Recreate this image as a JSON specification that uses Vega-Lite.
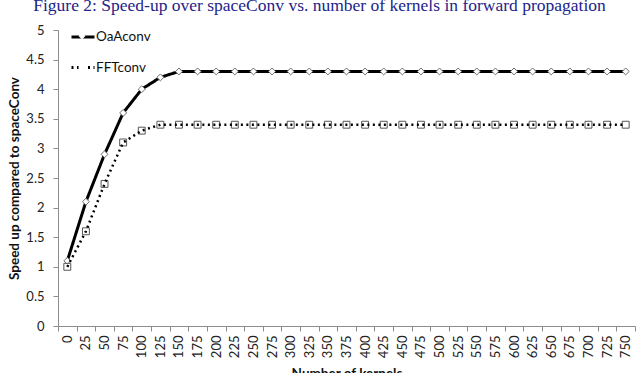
{
  "$schema": "https://vega.github.io/schema/vega-lite/v6.json",
  "autosize": {"type": "none"},
  "width": 577,
  "height": 296,
  "padding": {"left": 58, "top": 30, "right": 5, "bottom": 47},
  "background": "white",
  "title": {
    "text": "Figure 2: Speed-up over spaceConv vs. number of kernels in forward propagation",
    "font": "Liberation Serif",
    "fontSize": 17.5,
    "fontWeight": "normal",
    "color": "#23238a",
    "anchor": "middle",
    "dx": -27,
    "baseline": "alphabetic",
    "offset": -4.5
  },
  "config": {
    "view": {"stroke": null},
    "font": "Lato",
    "axis": {
      "labelFont": "Lato",
      "labelFontSize": 13,
      "labelColor": "#222222",
      "titleFont": "Lato",
      "titleFontSize": 13.5,
      "titleFontWeight": "bold",
      "titleColor": "#111111",
      "domainColor": "#8c8c8c",
      "tickColor": "#8c8c8c",
      "tickSize": 5,
      "grid": false
    },
    "legend": {"padding": 0}
  },
  "data": {
    "values": [
      {"k": 0, "series": "OaAconv", "v": 1.1},
      {"k": 25, "series": "OaAconv", "v": 2.1},
      {"k": 50, "series": "OaAconv", "v": 2.9},
      {"k": 75, "series": "OaAconv", "v": 3.6},
      {"k": 100, "series": "OaAconv", "v": 4.0},
      {"k": 125, "series": "OaAconv", "v": 4.2},
      {"k": 150, "series": "OaAconv", "v": 4.3},
      {"k": 175, "series": "OaAconv", "v": 4.3},
      {"k": 200, "series": "OaAconv", "v": 4.3},
      {"k": 225, "series": "OaAconv", "v": 4.3},
      {"k": 250, "series": "OaAconv", "v": 4.3},
      {"k": 275, "series": "OaAconv", "v": 4.3},
      {"k": 300, "series": "OaAconv", "v": 4.3},
      {"k": 325, "series": "OaAconv", "v": 4.3},
      {"k": 350, "series": "OaAconv", "v": 4.3},
      {"k": 375, "series": "OaAconv", "v": 4.3},
      {"k": 400, "series": "OaAconv", "v": 4.3},
      {"k": 425, "series": "OaAconv", "v": 4.3},
      {"k": 450, "series": "OaAconv", "v": 4.3},
      {"k": 475, "series": "OaAconv", "v": 4.3},
      {"k": 500, "series": "OaAconv", "v": 4.3},
      {"k": 525, "series": "OaAconv", "v": 4.3},
      {"k": 550, "series": "OaAconv", "v": 4.3},
      {"k": 575, "series": "OaAconv", "v": 4.3},
      {"k": 600, "series": "OaAconv", "v": 4.3},
      {"k": 625, "series": "OaAconv", "v": 4.3},
      {"k": 650, "series": "OaAconv", "v": 4.3},
      {"k": 675, "series": "OaAconv", "v": 4.3},
      {"k": 700, "series": "OaAconv", "v": 4.3},
      {"k": 725, "series": "OaAconv", "v": 4.3},
      {"k": 750, "series": "OaAconv", "v": 4.3},
      {"k": 0, "series": "FFTconv", "v": 1.0},
      {"k": 25, "series": "FFTconv", "v": 1.6},
      {"k": 50, "series": "FFTconv", "v": 2.4},
      {"k": 75, "series": "FFTconv", "v": 3.1},
      {"k": 100, "series": "FFTconv", "v": 3.3},
      {"k": 125, "series": "FFTconv", "v": 3.4},
      {"k": 150, "series": "FFTconv", "v": 3.4},
      {"k": 175, "series": "FFTconv", "v": 3.4},
      {"k": 200, "series": "FFTconv", "v": 3.4},
      {"k": 225, "series": "FFTconv", "v": 3.4},
      {"k": 250, "series": "FFTconv", "v": 3.4},
      {"k": 275, "series": "FFTconv", "v": 3.4},
      {"k": 300, "series": "FFTconv", "v": 3.4},
      {"k": 325, "series": "FFTconv", "v": 3.4},
      {"k": 350, "series": "FFTconv", "v": 3.4},
      {"k": 375, "series": "FFTconv", "v": 3.4},
      {"k": 400, "series": "FFTconv", "v": 3.4},
      {"k": 425, "series": "FFTconv", "v": 3.4},
      {"k": 450, "series": "FFTconv", "v": 3.4},
      {"k": 475, "series": "FFTconv", "v": 3.4},
      {"k": 500, "series": "FFTconv", "v": 3.4},
      {"k": 525, "series": "FFTconv", "v": 3.4},
      {"k": 550, "series": "FFTconv", "v": 3.4},
      {"k": 575, "series": "FFTconv", "v": 3.4},
      {"k": 600, "series": "FFTconv", "v": 3.4},
      {"k": 625, "series": "FFTconv", "v": 3.4},
      {"k": 650, "series": "FFTconv", "v": 3.4},
      {"k": 675, "series": "FFTconv", "v": 3.4},
      {"k": 700, "series": "FFTconv", "v": 3.4},
      {"k": 725, "series": "FFTconv", "v": 3.4},
      {"k": 750, "series": "FFTconv", "v": 3.4}
    ]
  },
  "encoding": {
    "x": {
      "field": "k",
      "type": "ordinal",
      "bandPosition": 0.5,
      "scale": {"type": "band", "paddingInner": 0, "paddingOuter": 0},
      "axis": {
        "title": "Number of kernels",
        "labelAngle": -90,
        "labelPadding": 4,
        "tickBand": "extent",
        "titlePadding": 9
      }
    },
    "y": {
      "field": "v",
      "type": "quantitative",
      "scale": {"domain": [0, 5], "nice": false},
      "axis": {
        "title": "Speed up compared to spaceConv",
        "values": [0, 0.5, 1, 1.5, 2, 2.5, 3, 3.5, 4, 4.5, 5],
        "labelExpr": "datum.value + ''",
        "labelPadding": 9,
        "titlePadding": 4
      }
    }
  },
  "layer": [
    {
      "transform": [{"filter": "datum.series === 'OaAconv'"}],
      "mark": {"type": "line", "color": "black", "strokeWidth": 3},
      "encoding": {
        "strokeDash": {
          "field": "series",
          "type": "nominal",
          "scale": {"domain": ["OaAconv", "FFTconv"], "range": [[1, 0], [2, 3.5]]},
          "legend": {
            "title": null,
            "orient": "none",
            "legendX": 12,
            "legendY": -6,
            "symbolType": "stroke",
            "symbolSize": 529,
            "symbolStrokeWidth": 3,
            "symbolStrokeColor": "black",
            "labelFont": "Lato",
            "labelFontSize": 13.5,
            "labelColor": "#111111",
            "labelOffset": 0,
            "rowPadding": 10.5
          }
        }
      }
    },
    {
      "transform": [{"filter": "datum.series === 'OaAconv'"}],
      "mark": {"type": "point", "fill": "white", "stroke": "#6e6e6e", "strokeWidth": 1, "size": 529, "opacity": 1},
      "encoding": {
        "shape": {
          "field": "series",
          "type": "nominal",
          "scale": {
            "domain": ["FFTconv", "OaAconv"],
            "range": ["M-0.3,-0.3H0.3V0.3H-0.3Z", "M0,-0.3L0.3,0L0,0.3L-0.3,0Z"]
          },
          "legend": {
            "title": null,
            "orient": "none",
            "values": ["OaAconv", "FFTconv"],
            "legendX": 12,
            "legendY": -6,
            "symbolSize": 529,
            "symbolFillColor": "white",
            "symbolStrokeColor": "#555555",
            "symbolStrokeWidth": 1,
            "labelFont": "Lato",
            "labelFontSize": 13.5,
            "labelExpr": "''",
            "labelOffset": 0,
            "rowPadding": 10.5
          }
        }
      }
    },
    {
      "transform": [{"filter": "datum.series === 'FFTconv'"}],
      "mark": {"type": "point", "fill": "white", "stroke": "#555555", "strokeWidth": 1, "size": 529, "opacity": 1},
      "encoding": {
        "shape": {"field": "series", "type": "nominal"}
      }
    },
    {
      "transform": [{"filter": "datum.series === 'FFTconv'"}],
      "mark": {"type": "line", "color": "black", "strokeWidth": 2.5},
      "encoding": {
        "strokeDash": {"field": "series", "type": "nominal"}
      }
    }
  ]
}
